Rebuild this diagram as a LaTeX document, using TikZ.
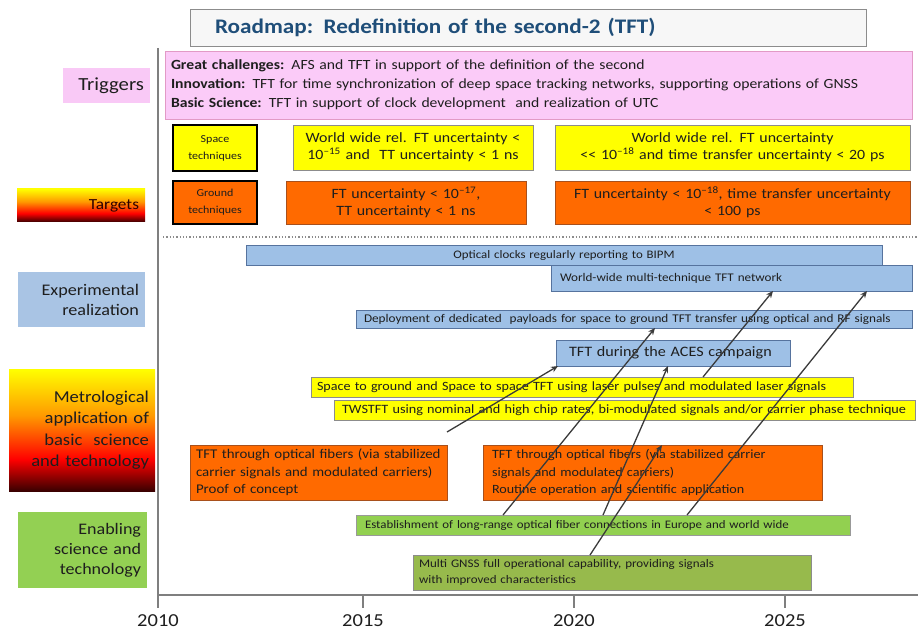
\documentclass[tikz,border=0pt]{standalone}
\usepackage{fontspec}
\setmainfont{Carlito}[FakeStretch=1.12]
\usetikzlibrary{arrows.meta,calc}

% palette
\definecolor{titleblue}{HTML}{1F4E79}
\definecolor{pinkfill}{HTML}{FBCBF8}
\definecolor{pinkline}{HTML}{E29AC6}
\definecolor{yel}{HTML}{FFFF00}
\definecolor{org}{HTML}{FF6A00}
\definecolor{orgline}{HTML}{A8501C}
\definecolor{blu}{HTML}{9EC0E6}
\definecolor{bluline}{HTML}{56739E}
\definecolor{grn}{HTML}{92D050}
\definecolor{olive}{HTML}{97BA4C}
\definecolor{axisgray}{HTML}{7F7F7F}
\definecolor{arrowgray}{HTML}{3A3A3A}
\definecolor{lblpink}{HTML}{F9C9F6}
\definecolor{lblblue}{HTML}{A9C4E4}
\definecolor{lblgreen}{HTML}{93D053}
\definecolor{heatdark}{HTML}{3A0000}
\definecolor{heatorange}{HTML}{FF9A00}
\definecolor{textdark}{HTML}{1E1E1E}

% yellow -> orange -> red -> dark red, top to bottom
\pgfdeclareverticalshading{heat}{100bp}{color(0bp)=(heatdark); color(25bp)=(heatdark);
  color(38bp)=(red); color(56bp)=(heatorange); color(75bp)=(yel); color(100bp)=(yel)}

\begin{document}
\begin{tikzpicture}[x=1pt,y=-1pt,
  bx/.style={anchor=north west, inner xsep=6pt, inner ysep=0pt, outer sep=0pt, text=textdark},
  sized/.style 2 args={minimum width=#1pt, minimum height=#2pt, text width=#1pt-12pt},
  bluebar/.style={bx, draw=bluline, fill=blu, line width=0.6pt},
  yelbar/.style={bx, draw=black!45, fill=yel, line width=0.6pt},
  orgbar/.style={bx, draw=orgline, fill=org, line width=0.6pt},
  grnbar/.style={bx, draw=black!40, fill=grn, line width=0.6pt},
  olivebar/.style={bx, draw=black!45, fill=olive, line width=0.6pt},
  techbox/.style={bx, draw=black, line width=1.6pt, align=center},
  lbl/.style={bx, align=right, text=textdark},
  arr/.style={draw=arrowgray, line width=1.3pt, -{Stealth[length=7pt,width=6pt]}},
  axisline/.style={draw=axisgray, line width=1.8pt},
  yearlbl/.style={font=\fontsize{18.3}{20}\selectfont, text=textdark}]

\useasboundingbox (0,0) rectangle (918,631);

% ---------- title ----------
\node[bx, sized={676}{37}, draw=black!45, fill=black!3, line width=0.8pt, align=left,
      font=\fontsize{20.7}{22}\bfseries\selectfont, text=titleblue] (title) at (190,9)
  {\hspace*{19pt}Roadmap: Redefinition of the second-2 (TFT)};

% ---------- left-hand row labels ----------
\node[lbl, sized={87}{35}, fill=lblpink, font=\fontsize{18.5}{19}\selectfont] (ltrig) at (63,68) {Triggers};
\shade[shading=heat] (17,189) rectangle (145,222);
\node[lbl, sized={128}{33}, font=\fontsize{15.4}{17}\selectfont, text=heatdark!80!black] (ltarg) at (17,189) {Targets};
\node[lbl, sized={127}{55}, fill=lblblue, font=\fontsize{16.2}{20}\selectfont] (lexp) at (18,272)
  {Experimental\\ realization};
\shade[shading=heat] (9,369) rectangle (155,491);
\node[lbl, sized={146}{122}, font=\fontsize{16.6}{21.5}\selectfont] (lmet) at (9,369)
  {Metrological\\ application of\\ basic\ \ science\\ and technology};
\node[lbl, sized={129}{76}, fill=lblgreen, font=\fontsize{16.1}{20}\selectfont] (lenab) at (18,512)
  {Enabling\\ science and\\ technology};

% ---------- triggers ----------
\node[bx, sized={747}{68}, draw=pinkline, fill=pinkfill, line width=0.8pt, align=left,
      font=\fontsize{14}{19}\selectfont] (trig) at (165,51)
  {\textbf{Great challenges:} AFS and TFT in support of the definition of the second\\
   \textbf{Innovation:} TFT for time synchronization of deep space tracking networks, supporting operations of GNSS\\
   \textbf{Basic Science:} TFT in support of clock development\ \ and realization of UTC};

% ---------- targets ----------
\node[techbox, sized={84}{46}, fill=yel, font=\fontsize{10.7}{17}\selectfont] (space) at (173,125)
  {Space\\ techniques};
\node[yelbar, sized={240}{45}, align=center, font=\fontsize{14.2}{17}\selectfont] (tsp1) at (293,125)
  {World wide rel. FT uncertainty <\\ 10\textsuperscript{–15} and\ \ TT uncertainty < 1 ns};
\node[yelbar, sized={355}{45}, align=center, font=\fontsize{14.2}{17}\selectfont] (tsp2) at (555,125)
  {World wide rel. FT uncertainty\\ {<}{<} 10\textsuperscript{–18} and time transfer uncertainty < 20 ps};
\node[techbox, sized={84}{43}, fill=org, font=\fontsize{10.7}{17}\selectfont] (ground) at (173,181)
  {Ground\\ techniques};
\node[orgbar, sized={240}{43}, align=center, font=\fontsize{14.2}{17}\selectfont] (tgr1) at (286,181)
  {FT uncertainty < 10\textsuperscript{–17},\\ TT uncertainty < 1 ns};
\node[orgbar, sized={355}{43}, align=center, font=\fontsize{14.2}{17}\selectfont] (tgr2) at (555,181)
  {FT uncertainty < 10\textsuperscript{–18}, time transfer uncertainty\\ < 100 ps};

% separator between targets and the timeline
\coordinate (sepL) at (163,237);
\coordinate (sepR) at (918,237);
\draw[black!45, line width=1.3pt, dotted] (sepL) -- (sepR);

% ---------- experimental realization ----------
\node[bluebar, sized={636}{20}, align=center, font=\fontsize{11.5}{13}\selectfont] (clocks) at (246,245)
  {Optical clocks regularly reporting to BIPM};
\node[bluebar, sized={361}{26}, align=left, font=\fontsize{11.7}{14}\selectfont] (network) at (551,265)
  {\hspace*{3pt}World-wide multi-technique TFT network};
\node[bluebar, sized={556}{18}, align=left, font=\fontsize{11.8}{13}\selectfont] (deploy) at (356,310)
  {\hspace*{2pt}Deployment of dedicated\ \ payloads for space to ground TFT transfer using optical and RF signals};
\node[bluebar, sized={234}{26}, align=left, font=\fontsize{14.4}{17}\selectfont] (aces) at (556,340)
  {\hspace*{7pt}TFT during the ACES campaign};

% ---------- metrological application ----------
\node[yelbar, sized={542}{20}, align=left, font=\fontsize{12.6}{14}\selectfont] (sgnd) at (311,377)
  {Space to ground and Space to space TFT using laser pulses and modulated laser signals};
\node[yelbar, sized={581}{20}, align=left, font=\fontsize{12.7}{14}\selectfont] (twstft) at (334,400)
  {\hspace*{2pt}TWSTFT using nominal and high chip rates, bi-modulated signals and/or carrier phase technique};
\node[orgbar, sized={257}{55}, align=left, font=\fontsize{13.3}{17.5}\selectfont] (fiber1) at (190,445)
  {TFT through optical fibers (via stabilized\\ carrier signals and modulated carriers)\\ Proof of concept};
\node[orgbar, sized={339}{55}, align=left, font=\fontsize{12.6}{17.5}\selectfont] (fiber2) at (483,445)
  {\hspace*{3pt}TFT through optical fibers (via stabilized carrier\\ \hspace*{3pt}signals and modulated carriers)\\ \hspace*{3pt}Routine operation and scientific application};

% ---------- enabling science and technology ----------
\node[grnbar, sized={494}{20}, align=left, font=\fontsize{11.5}{13}\selectfont] (estab) at (356,515)
  {\hspace*{3pt}Establishment of long-range optical fiber connections in Europe and world wide};
\node[olivebar, sized={398}{35}, align=left, font=\fontsize{11.6}{16}\selectfont] (gnss) at (413,555)
  {Multi GNSS full operational capability, providing signals\\ with improved characteristics};

% ---------- dependencies ----------
\coordinate (a1s) at (447,432);
\draw[arr] (a1s) -- ([xshift=2pt]aces.south west);
\draw[arr] ([xshift=147pt]estab.north west) -- ([xshift=299pt]deploy.south west);
\draw[arr] ([xshift=247pt]estab.north west) -- ([xshift=112pt]aces.south west);
\draw[arr] ([xshift=177pt]gnss.north west) -- ([xshift=179pt]fiber2.north west);
\draw[arr] ([xshift=392pt]sgnd.north west) -- ([xshift=222pt]network.south west);
\draw[arr] ([xshift=331pt]estab.north west) -- ([xshift=316pt]network.south west);

% ---------- time axis ----------
\coordinate (ytop) at (158,48);
\coordinate (ybot) at (158,608);
\coordinate (xleft) at (158,595);
\coordinate (xright) at (918,595);
\draw[axisline] (ytop) -- (ybot);
\draw[axisline] (xleft) -- (xright);
\foreach \yr/\xx in {2015/363, 2020/574, 2025/785}{
  \coordinate (tick\yr) at (\xx,595);
  \draw[axisline, line width=1.4pt] (tick\yr) -- ++(0,13);
}
\foreach \yr/\xx in {2010/158, 2015/363, 2020/574, 2025/785}{
  \node[yearlbl] (year\yr) at (\xx,621) {\yr};
}
\end{tikzpicture}
\end{document}
